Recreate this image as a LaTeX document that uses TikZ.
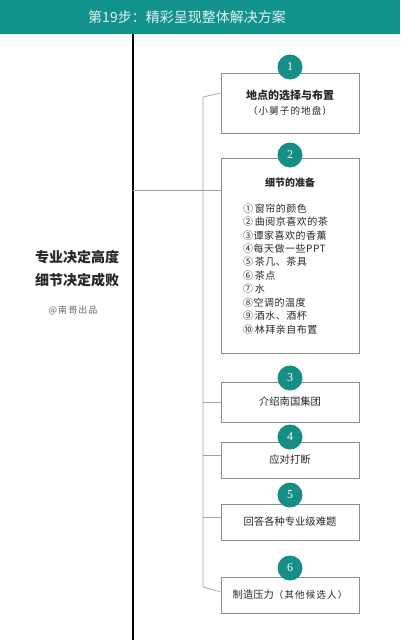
\documentclass[tikz,border=0pt]{standalone}
\usepackage{fontspec}
\setmainfont{Noto Sans CJK SC}
\newfontfamily\numfont{Liberation Serif}
\newfontfamily\spaced[LetterSpace=12]{Noto Sans CJK SC}
\newfontfamily\listfont[LetterSpace=5]{Noto Sans CJK SC}
\definecolor{teal1}{RGB}{18,146,140}
\definecolor{circ}{RGB}{22,142,134}
\definecolor{headtext}{RGB}{225,242,240}
\definecolor{boxgray}{RGB}{140,140,140}
\definecolor{conngray}{RGB}{160,160,160}
\definecolor{txt}{RGB}{40,40,40}
\begin{document}
\begin{tikzpicture}[x=1pt,y=-1pt,
  box/.style={draw=boxgray, line width=0.8pt, fill=white, minimum width=138pt, inner sep=0pt, align=center, text=txt, font=\fontsize{10.3}{14}\selectfont},
  numc/.style={circle, fill=circ, minimum size=25pt, inner sep=0pt, text=white, font=\numfont\fontsize{12}{12}\selectfont},
  conn/.style={draw=conngray, line width=0.7pt}]
\useasboundingbox (0,0) rectangle (400,640);
\fill[teal1] (0,0) rectangle (400,34);
\node[text=headtext, font=\fontsize{14}{16}\selectfont] (title) at (187,17) {第19步：精彩呈现整体解决方案};
\coordinate (vt) at (133,34);
\coordinate (vb) at (133,640);
\draw[line width=1.5pt] (vt) -- (vb);
% left text
\node[font=\bfseries\fontsize{14}{16}\selectfont, text=txt] (l1) at (77,257) {专业决定高度};
\node[font=\bfseries\fontsize{14}{16}\selectfont, text=txt] (l2) at (77,280) {细节决定成败};
\node[font=\spaced\fontsize{9}{10}\selectfont, text=black!60] (l3) at (73,310) {@南哥出品};
% boxes
\node[box, minimum height=60pt] (b1) at (290,103) {{\bfseries\fontsize{11}{14}\selectfont 地点的选择与布置}\\[1pt]{\spaced\fontsize{9.5}{12}\selectfont （小舅子的地盘）}};
\node[box, minimum height=195pt] (b2) at (290,255.5) {};
\node[box, minimum height=40pt] (b3) at (290,402) {介绍南国集团};
\node[box, minimum height=36pt] (b4) at (290,460) {应对打断};
\node[box, minimum height=36pt] (b5) at (290,522) {回答各种专业级难题};
\node[box, minimum height=36pt] (b6) at (290,595) {制造压力{\spaced\fontsize{9.5}{12}\selectfont （其他候选人）}};
\node[font=\bfseries\fontsize{10}{12}\selectfont, text=txt] (b2t) at (290,183) {细节的准备};
\node[anchor=north west, align=left, inner sep=0pt, text=txt, font=\listfont\fontsize{10}{13.45}\selectfont] (b2l) at (243,203.5) {①\,窗帘的颜色\\②\,曲阅京喜欢的茶\\③谭家喜欢的香薰\\④每天做一些PPT\\⑤\,茶几、茶具\\⑥\,茶点\\⑦\,水\\⑧空调的温度\\⑨\,酒水、酒杯\\⑩\,林拜亲自布置};
% connectors
\coordinate (bt) at (203,97);
\coordinate (bb) at (203,587);
\coordinate (m) at (133,190);
\coordinate (j3) at (203,402);
\coordinate (j4) at (203,455);
\coordinate (j5) at (203,517);
\draw[conn] (b1.west |- 0,93) -- (bt) -- (bb) -- (b6.west |- 0,592);
\draw[conn] (m) -- (m -| b2.west);
\draw[conn] (j3) -- (j3 -| b3.west);
\draw[conn] (j4) -- (j4 -| b4.west);
\draw[conn] (j5) -- (j5 -| b5.west);
% number circles
\node[numc] (c1) at (290,67) {1};
\node[numc] (c2) at (290,155) {2};
\node[numc] (c3) at (290,378) {3};
\node[numc] (c4) at (290,437) {4};
\node[numc] (c5) at (290,495) {5};
\node[numc] (c6) at (290,568) {6};
\end{tikzpicture}
\end{document}
